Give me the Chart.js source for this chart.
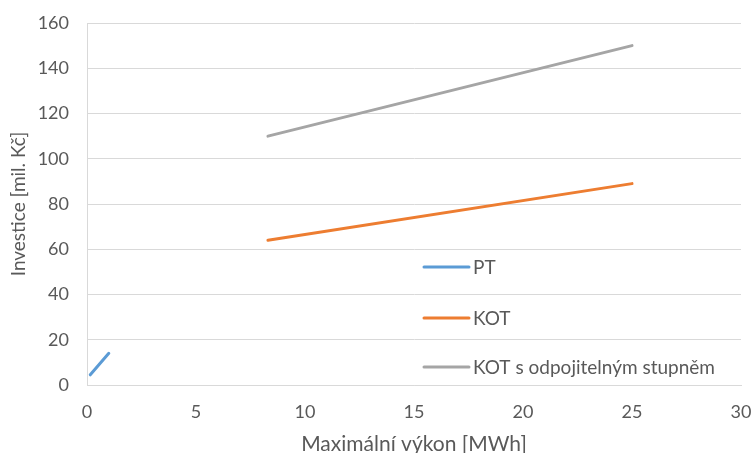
<!DOCTYPE html>
<html>
<head>
<meta charset="utf-8">
<script src="https://cdn.jsdelivr.net/npm/chart.js@4/dist/chart.umd.min.js"></script>
<style>
  html, body { margin: 0; padding: 0; background: #fff; }
  #wrap { width: 755px; height: 453px; }
</style>
</head>
<body>
<div id="wrap"><canvas id="chart" width="755" height="453"></canvas></div>
<script>
// series values
const ptX = [0.15, 1];
const ptY = [4.5, 14];
const kotX = [8.3, 25];
const kotY = [64, 89];
const kotOdpX = [8.3, 25];
const kotOdpY = [110, 150];

const seriesNames = ['PT', 'KOT', 'KOT s odpojitelným stupněm'];
const seriesColors = ['#5b9bd5', '#ed7d31', '#a5a5a5'];

const xTicks = [0, 5, 10, 15, 20, 25, 30];
const yTicks = [0, 20, 40, 60, 80, 100, 120, 140, 160];

const xTitle = 'Maximální výkon [MWh]';
const yTitle = 'Investice [mil. Kč]';

const textColor = '#595959';
const gridColor = '#d9d9d9';
const fontFamily = 'Lato, "Open Sans", sans-serif';

function toPoints(xs, ys) {
    return xs.map((x, i) => ({ x: x, y: ys[i] }));
}

const seriesData = [toPoints(ptX, ptY), toPoints(kotX, kotY), toPoints(kotOdpX, kotOdpY)];

// legend sits inside the plot area, drawn by hand
const insideLegend = {
    id: 'insideLegend',
    afterDraw(chart) {
        const ctx = chart.ctx;
        const startX = 424;
        const lineLen = 45;
        const rows = [267, 318, 367];
        ctx.save();
        ctx.font = '19px ' + fontFamily;
        ctx.textBaseline = 'middle';
        ctx.textAlign = 'left';
        chart.data.datasets.forEach((ds, i) => {
            const y = rows[i];
            ctx.strokeStyle = ds.borderColor;
            ctx.lineWidth = 3;
            ctx.lineCap = 'round';
            ctx.beginPath();
            ctx.moveTo(startX, y);
            ctx.lineTo(startX + lineLen, y);
            ctx.stroke();
            ctx.fillStyle = textColor;
            ctx.fillText(ds.label, startX + lineLen + 4, y + 1);
        });
        ctx.restore();
    }
};

new Chart(document.getElementById('chart'), {
    type: 'line',
    data: {
        datasets: seriesData.map((pts, i) => ({
            label: seriesNames[i],
            data: pts,
            borderColor: seriesColors[i],
            backgroundColor: seriesColors[i],
            borderWidth: 3,
            borderCapStyle: 'round',
            pointRadius: 0,
            fill: false,
            tension: 0
        }))
    },
    options: {
        responsive: false,
        animation: false,
        layout: { padding: { top: 23, right: 14, left: 0, bottom: 0 } },
        plugins: {
            legend: { display: false },
            tooltip: { enabled: false }
        },
        scales: {
            x: {
                type: 'linear',
                min: 0,
                max: 30,
                afterBuildTicks: (scale) => { scale.ticks = xTicks.map(v => ({ value: v })); },
                afterFit: (scale) => {
                    scale.height = 68;
                    scale.paddingLeft = 0;
                    scale.paddingRight = 0;
                },
                grid: { display: false, drawTicks: false },
                border: { display: true, color: gridColor, width: 1 },
                ticks: {
                    color: textColor,
                    padding: 16,
                    maxRotation: 0,
                    font: { family: fontFamily, size: 18 }
                },
                title: {
                    display: true,
                    text: xTitle,
                    color: textColor,
                    padding: { top: 0, bottom: 0 },
                    font: { family: fontFamily, size: 21, lineHeight: 0.8 }
                }
            },
            y: {
                type: 'linear',
                min: 0,
                max: 160,
                afterBuildTicks: (scale) => { scale.ticks = yTicks.map(v => ({ value: v })); },
                afterFit: (scale) => {
                    scale.width = 87;
                    scale.paddingTop = 0;
                    scale.paddingBottom = 0;
                },
                grid: { color: gridColor, lineWidth: 1, drawTicks: false },
                border: { display: true, color: gridColor, width: 1 },
                ticks: {
                    color: textColor,
                    padding: 18,
                    font: { family: fontFamily, size: 18 }
                },
                title: {
                    display: true,
                    text: yTitle,
                    color: textColor,
                    padding: { top: 7, bottom: 0 },
                    font: { family: fontFamily, size: 19 }
                }
            }
        }
    },
    plugins: [insideLegend]
});
</script>
</body>
</html>
